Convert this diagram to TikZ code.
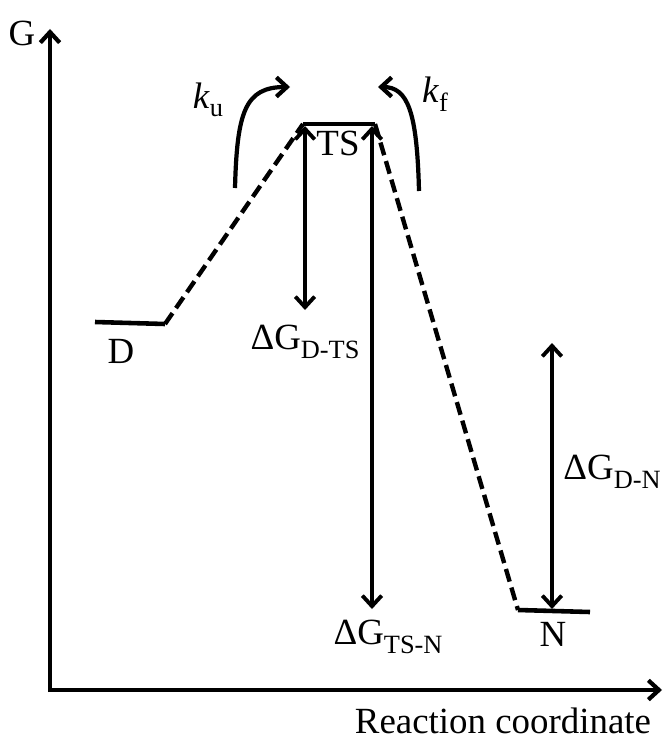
\documentclass[tikz,border=0pt]{standalone}
\usepackage{fontspec}
\setmainfont{Liberation Serif}
\usetikzlibrary{arrows.meta}
\newcommand{\lowsub}[1]{\raisebox{-0.5ex}{\fontsize{15}{17}\selectfont #1}}

\begin{document}
\begin{tikzpicture}[x=0.02cm, y=-0.02cm,
  lvl/.style={line width=2.6pt},
  route/.style={line width=2.5pt, dash pattern=on 7.5pt off 3.5pt},
  gap/.style={line width=2.2pt, {Straight Barb[length=6pt,width=11pt]}-{Straight Barb[length=6pt,width=11pt]}},
  rate/.style={line width=2.4pt, -{Straight Barb[length=6pt,width=11pt]}},
  axis/.style={line width=2.4pt, -{Straight Barb[length=6pt,width=11pt]}},
  lab/.style={font=\fontsize{21}{25}\selectfont, inner sep=0pt}]
  \useasboundingbox (0,0) rectangle (664,740);
  % axes
  \coordinate (o) at (50,690);
  \coordinate (ytip) at (50,29);
  \coordinate (xtip) at (662,690);
  \draw[axis] (50,692) -- (ytip);
  \draw[axis] (48,690) -- (xtip);
  \node[lab] (g) at (22,33) {G};
  \node[lab] (rc) at (503,721) {Reaction coordinate};
  % energy levels
  \coordinate (d1) at (95,322);
  \coordinate (d2) at (165,324);
  \coordinate (ts1) at (303,124);
  \coordinate (ts2) at (375,124);
  \coordinate (n1) at (518,610);
  \coordinate (n2) at (590,612);
  \draw[lvl] (d1) -- (d2);
  \draw[lvl] (ts1) -- (ts2);
  \draw[lvl] (n1) -- (n2);
  \draw[route] (d2) -- (ts1);
  \draw[route] (ts2) -- (n1);
  \node[lab] (d) at (121,351) {D};
  \node[lab] (ts) at (338,143) {TS};
  \node[lab] (n) at (553,634) {N};
  % free energy gaps
  \coordinate (a1) at (305,126);
  \coordinate (a2) at (305,310);
  \coordinate (b1) at (372,126);
  \coordinate (b2) at (372,609);
  \coordinate (c1) at (552,343);
  \coordinate (c2) at (552,609);
  \draw[gap] (a1) -- (a2);
  \draw[gap] (b1) -- (b2);
  \draw[gap] (c1) -- (c2);
  \node[lab] (dgts) at (305,342) {ΔG\lowsub{D-TS}};
  \node[lab] (dgtsn) at (388,637) {ΔG\lowsub{TS-N}};
  \node[lab] (dgdn) at (612,472) {ΔG\lowsub{D-N}};
  % rates
  \coordinate (u1) at (235,188);
  \coordinate (u2) at (290,87);
  \coordinate (f1) at (419,191);
  \coordinate (f2) at (378,87);
  \draw[rate] (u1) .. controls (237,112) and (245,87) .. (u2);
  \draw[rate] (f1) .. controls (417,112) and (408,87) .. (f2);
  \node[lab] (ku) at (208,100) {\textit{k}\lowsub{u}};
  \node[lab] (kf) at (435,94) {\textit{k}\lowsub{f}};
\end{tikzpicture}
\end{document}
